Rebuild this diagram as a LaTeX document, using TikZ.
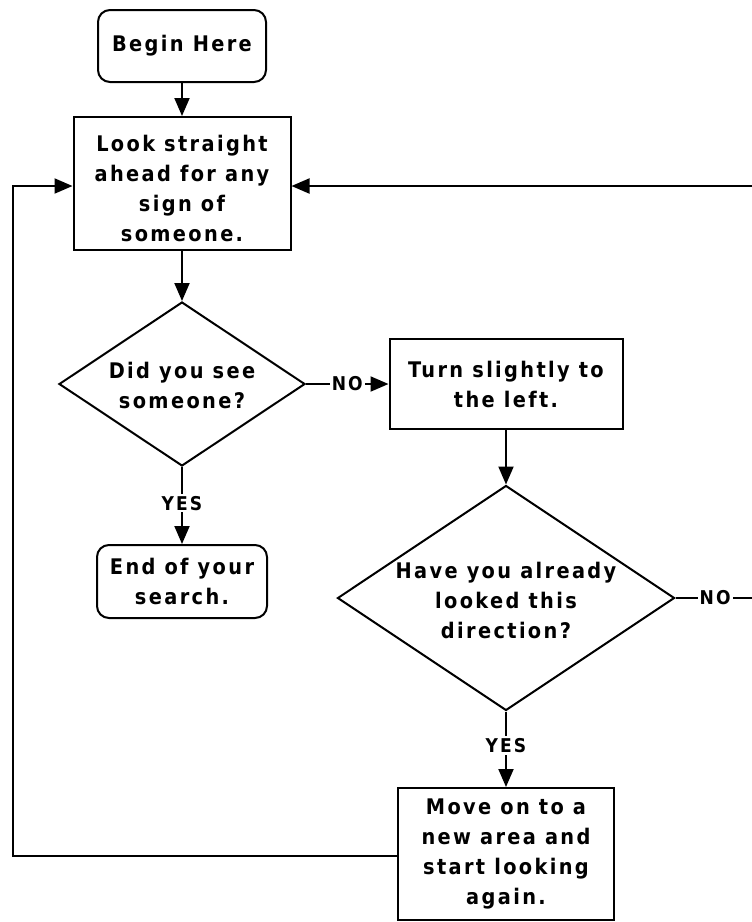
\documentclass[tikz,border=0pt]{standalone}
\usepackage{fontspec}
\setmainfont{DejaVu Sans Condensed}[LetterSpace=11]
\usetikzlibrary{shapes.geometric,arrows.meta}
\tikzset{
  every node/.style={font=\bfseries\fontsize{21.5}{30}\selectfont, align=center, inner sep=0pt},
  boxnode/.style={draw, line width=2pt, rectangle},
  roundnode/.style={draw, line width=2pt, rectangle, rounded corners=12pt},
  decnode/.style={draw, line width=2pt, diamond, inner sep=0pt},
  lbl/.style={font=\bfseries\fontsize{19}{22}\selectfont, fill=white, inner sep=2pt},
  arr/.style={line width=2pt, -{Triangle[length=18pt,width=15pt]}},
}
\begin{document}
\begin{tikzpicture}[x=1pt,y=-1pt]
\clip (0,0) rectangle (752,922);
\useasboundingbox (0,0) rectangle (752,922);
\fill[white] (0,0) rectangle (752,922);

\node[roundnode, minimum width=168pt, minimum height=72pt] (begin) at (182,46) {};
\node (begintxt) at (182,46) {Begin Here};

\node[boxnode, minimum width=217pt, minimum height=133pt] (look) at (182,183.5) {};
\node (looktxt) at (182,188) {Look straight\\ahead for any\\sign of\\someone.};

\node[decnode, minimum width=246pt, minimum height=164pt] (d1) at (182,384) {};
\node (d1txt) at (182,385) {Did you see\\someone?};

\node[roundnode, minimum width=170pt, minimum height=73pt] (end) at (182,581.5) {};
\node (endtxt) at (182,581.5) {End of your\\search.};

\node[boxnode, minimum width=233pt, minimum height=90pt] (turn) at (506,384) {};
\node (turntxt) at (506,384) {Turn slightly to\\the left.};

\node[decnode, minimum width=337pt, minimum height=225pt] (d2) at (506,598) {};
\node (d2txt) at (506,600) {Have you already\\looked this\\direction?};

\node[boxnode, minimum width=216pt, minimum height=132pt] (move) at (506,854) {};
\node (movetxt) at (506,854) {Move on to a\\new area and\\start looking\\again.};

\coordinate (lc) at (13,856);
\coordinate (lt) at (13,186);
\coordinate (rc) at (770,598);
\coordinate (rt) at (770,186);

\draw[arr] (begin.south) -- (look.north);
\draw[arr] (look.south) -- (d1.north);
\draw[arr] (d1.east) -- node[lbl]{NO} (turn.west);
\draw[arr] (d1.south) -- node[lbl, pos=0.47]{YES} (end.north);
\draw[arr] (turn.south) -- (d2.north);
\draw[arr] (d2.south) -- node[lbl, pos=0.45]{YES} (move.north);
\draw[arr] (move.west |- lc) -- (lc) -- (lt) -- (look.west |- lt);
\draw[arr] (d2.east) -- node[lbl, pos=0.42]{NO} (rc) -- (rt) -- (look.east |- rt);
\end{tikzpicture}
\end{document}
